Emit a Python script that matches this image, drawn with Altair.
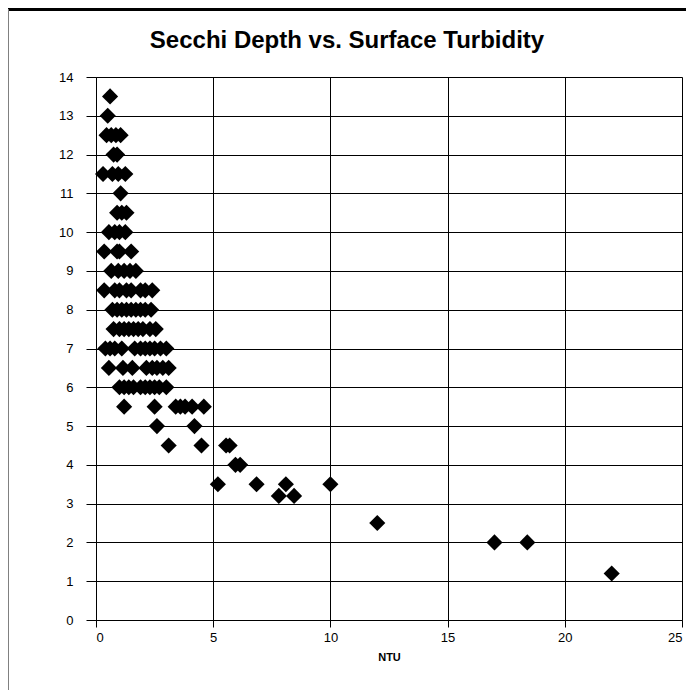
import altair as alt
import pandas as pd

# Secchi depth rows (m) and the NTU readings observed at each depth
depth_rows = [13.5, 13.0, 12.5, 12.0, 11.5, 11.0, 10.5, 10.0, 9.5, 9.0, 8.5, 8.0,
              7.5, 7.0, 6.5, 6.0, 5.5, 5.0, 4.5, 4.0, 3.5, 3.2, 2.5, 2.0, 1.2]
ntu_rows = [
    [0.6],
    [0.5],
    [0.45, 0.65, 0.85, 1.05],
    [0.75, 0.9],
    [0.3, 0.7, 0.95, 1.25],
    [1.05],
    [0.9, 1.1, 1.3],
    [0.55, 0.8, 1.0, 1.25],
    [0.35, 0.9, 1.0, 1.5],
    [0.65, 0.95, 1.2, 1.45, 1.7],
    [0.35, 0.8, 1.0, 1.3, 1.5, 1.9, 2.1, 2.4],
    [0.7, 0.9, 1.1, 1.3, 1.5, 1.7, 1.9, 2.1, 2.35],
    [0.75, 1.0, 1.2, 1.4, 1.6, 1.8, 2.0, 2.3, 2.55],
    [0.4, 0.6, 0.8, 1.1, 1.65, 1.9, 2.1, 2.3, 2.5, 2.75, 3.0],
    [0.55, 1.15, 1.55, 2.15, 2.4, 2.6, 2.85, 3.1],
    [1.0, 1.2, 1.4, 1.6, 1.9, 2.1, 2.3, 2.5, 2.7, 3.0],
    [1.2, 2.5, 3.4, 3.6, 3.8, 4.1, 4.6],
    [2.6, 4.2],
    [3.1, 4.5, 5.55, 5.7],
    [5.95, 6.15],
    [5.2, 6.85, 8.1, 10.0],
    [7.8, 8.45],
    [12.0],
    [17.0, 18.4],
    [22.0],
]
title_text = "Secchi Depth vs. Surface Turbidity"

rows = []
for d, xs in zip(depth_rows, ntu_rows):
    for v in xs:
        rows.append({"NTU": v, "Depth": d})
df = pd.DataFrame(rows)
title_df = pd.DataFrame({"title": [title_text]})

W, H = 586, 543

points = alt.Chart(df).mark_point(
    shape="diamond", filled=True, color="black", size=260, opacity=1
).encode(
    x=alt.X("NTU:Q", scale=alt.Scale(domain=[0, 25], nice=False),
            axis=alt.Axis(values=[0, 5, 10, 15, 20, 25], title="NTU",
                          grid=True, gridColor="black", gridWidth=1,
                          domainColor="black", tickColor="black", tickSize=7,
                          labelFont="Liberation Sans", labelFontSize=13, labelColor="black",
                          labelPadding=4, titleFont="Liberation Sans", titleFontSize=11,
                          titleFontWeight="bold", titlePadding=7, titleColor="black")),
    y=alt.Y("Depth:Q", scale=alt.Scale(domain=[0, 14], nice=False),
            axis=alt.Axis(values=list(range(0, 15)), title=None,
                          grid=True, gridColor="black", gridWidth=1,
                          domainColor="black", tickColor="black", tickSize=10,
                          labelFont="Liberation Sans", labelFontSize=13, labelColor="black",
                          labelPadding=13)),
)

top_border = alt.Chart(df).mark_rule(color="black", strokeWidth=3).encode(
    x=alt.value(-87.5), x2=alt.value(600), y=alt.value(-67.5)
)
left_border = alt.Chart(df).mark_rule(color="#808080", strokeWidth=1).encode(
    x=alt.value(-87.5), y=alt.value(-67.5), y2=alt.value(620)
)
title_mark = alt.Chart(title_df).mark_text(
    font="Liberation Sans", fontSize=24, fontWeight="bold", color="black",
    align="center", baseline="middle"
).encode(
    x=alt.value(251), y=alt.value(-36), text="title:N"
)

chart = alt.layer(points, top_border, left_border, title_mark).properties(
    width=W, height=H,
    autosize=alt.AutoSizeParams(type="none"),
    padding={"left": 88, "top": 69, "right": 4, "bottom": 70},
).configure_view(stroke=None).configure(background="white")

chart.save("out.html", embed_options={"renderer": "svg", "actions": False})
